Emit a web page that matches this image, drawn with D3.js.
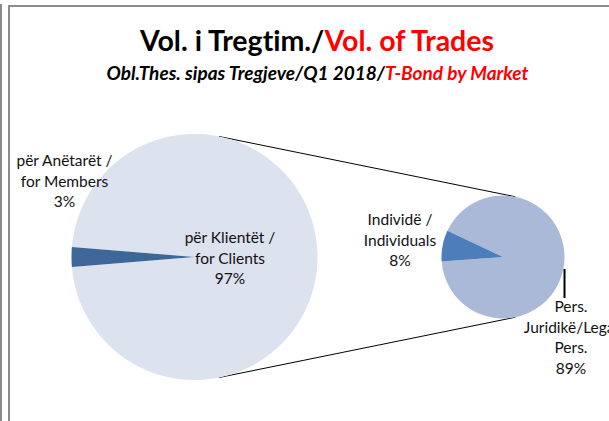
<!DOCTYPE html>
<html>
<head>
<meta charset="utf-8">
<script src="https://cdn.jsdelivr.net/npm/d3@7"></script>
<style>
  body { margin: 0; background: #fff; }
  svg { display: block; font-family: Lato, "Open Sans", sans-serif; font-variant-ligatures: none; }
</style>
</head>
<body>
<div id="chart"></div>
<script>
// primary pie: by market
let primaryNames = [["për Klientët /", "for Clients"], ["për Anëtarët /", "for Members"]];
let primaryValues = [97.4, 2.6];
// secondary pie: split of clients
let secondaryNames = [["Pers.", "Juridikë/Legal", "Pers."], ["Individë /", "Individuals"]];
let secondaryValues = [89.4, 8.0];

let primaryColors = ["#dce2ee", "#3e6699"];
let secondaryColors = ["#aab9d7", "#4d7dba"];

let width = 609, height = 421;
let svg = d3.select("#chart").append("svg")
    .attr("width", width)
    .attr("height", height);

// frame
svg.append("line").attr("x1", 1).attr("x2", 1).attr("y1", 4).attr("y2", height)
    .attr("stroke", "#8c8c8c").attr("stroke-width", 2);
svg.append("path").attr("d", `M9,${height} V6 H${width}`)
    .attr("fill", "none").attr("stroke", "#8c8c8c").attr("stroke-width", 2);

// centre a text on cx by its measured box
let centre = function(t, cx) {
    let b = t.node().getBBox();
    t.attr("x", cx - b.width / 2);
};

// titles
let title = svg.append("text").attr("x", 0).attr("y", 51)
    .style("font-size", "28.5px").style("font-weight", "bold");
title.append("tspan").attr("fill", "#000").text("Vol. i Tregtim./");
title.append("tspan").attr("fill", "#ff0000").text("Vol. of Trades");
centre(title, 317.5);

let sub = svg.append("text").attr("x", 0).attr("y", 80)
    .style("font-size", "19px").style("font-weight", "bold")
    .style("font-style", "italic");
sub.append("tspan").attr("fill", "#000").text("Obl.Thes. sipas Tregjeve/Q1 2018/");
sub.append("tspan").attr("fill", "#ff0000").text("T-Bond by Market");
centre(sub, 317.5);

let c1 = {x: 194.5, y: 257, r: 123};
let c2 = {x: 503, y: 257, r: 61.5};

// connector lines: external tangents of the two circles
let d = c2.x - c1.x;
let a = Math.asin((c1.r - c2.r) / d);
[-1, 1].forEach(function(s) {
    svg.append("line")
        .attr("x1", c1.x + c1.r * Math.sin(a)).attr("y1", c1.y + s * c1.r * Math.cos(a))
        .attr("x2", c2.x + c2.r * Math.sin(a)).attr("y2", c2.y + s * c2.r * Math.cos(a))
        .attr("stroke", "#000").attr("stroke-width", 1);
});

let total1 = d3.sum(primaryValues);
// the "other" slice faces the secondary pie on the right
let start1 = 1.5 * Math.PI + Math.PI * primaryValues[1] / total1 - 2 * Math.PI;
let pie1 = d3.pie().sort(null).startAngle(start1).endAngle(start1 + 2 * Math.PI);
let arc1 = d3.arc().innerRadius(0).outerRadius(c1.r);
svg.append("g").attr("transform", `translate(${c1.x},${c1.y})`)
    .selectAll("path").data(pie1(primaryValues)).enter().append("path")
    .attr("d", arc1)
    .attr("fill", function(dd, i) { return primaryColors[i]; });

let start2 = -64.7 * Math.PI / 180;
let pie2 = d3.pie().sort(null).startAngle(start2).endAngle(start2 + 2 * Math.PI);
let arc2 = d3.arc().innerRadius(0).outerRadius(c2.r);
svg.append("g").attr("transform", `translate(${c2.x},${c2.y})`)
    .selectAll("path").data(pie2(secondaryValues)).enter().append("path")
    .attr("d", arc2)
    .attr("fill", function(dd, i) { return secondaryColors[i]; });

// leader line for legal persons label
svg.append("line").attr("x1", c2.x + c2.r).attr("x2", c2.x + c2.r)
    .attr("y1", c2.y + 12).attr("y2", c2.y + 41)
    .attr("stroke", "#000").attr("stroke-width", 2);

let lh = 20.5;
let labelAt = function(lines, value, x, y) {
    let t = svg.append("text").attr("text-anchor", "middle")
        .attr("fill", "#111").style("font-size", "15.5px");
    lines.concat([Math.round(value) + "%"]).forEach(function(s, i) {
        t.append("tspan").attr("x", x).attr("y", y + i * lh).text(s);
    });
};

labelAt(primaryNames[0], primaryValues[0], 230, 243);
labelAt(primaryNames[1], primaryValues[1], 64.5, 166);
labelAt(secondaryNames[1], secondaryValues[1], 400, 225);
labelAt(secondaryNames[0], secondaryValues[0], 571, 312);
</script>
</body>
</html>
